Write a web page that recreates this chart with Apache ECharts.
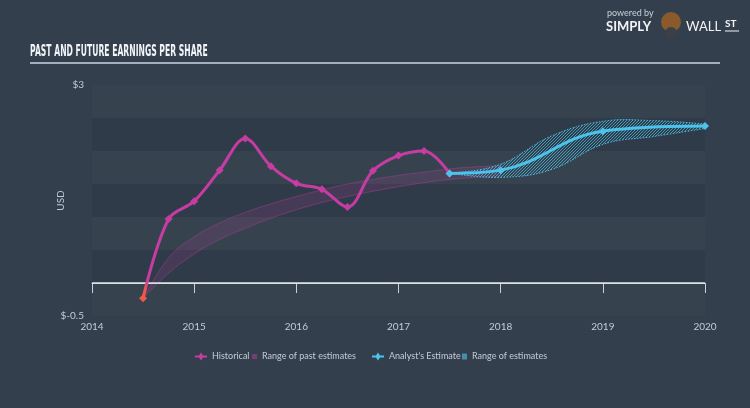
<!DOCTYPE html>
<html><head><meta charset="utf-8">
<script src="https://cdn.jsdelivr.net/npm/echarts@6/dist/echarts.min.js"></script>
<style>html,body{margin:0;padding:0;background:#343f4e;}#c{width:750px;height:408px;}</style>
</head><body><div id="c"></div>
<script>
// ---- data ----
const xTicks = [2014, 2015, 2016, 2017, 2018, 2019, 2020];
const yTickLabels = {"3": "$3", "-0.5": "$-0.5"};
const histX = [2014.5, 2014.75, 2015, 2015.25, 2015.5, 2015.75, 2016, 2016.25, 2016.5, 2016.75, 2017, 2017.25, 2017.5];
const histEPS = [-0.23, 0.97, 1.24, 1.71, 2.19, 1.77, 1.51, 1.42, 1.15, 1.70, 1.93, 2.00, 1.66];
const pastRangeX = [2014.5, 2014.75, 2015, 2015.25, 2015.5, 2015.75, 2016, 2016.25, 2016.5, 2016.75, 2017, 2017.25, 2017.5, 2017.75, 2018];
const pastLow  = [-0.23, 0.15, 0.44, 0.66, 0.83, 0.98, 1.11, 1.22, 1.31, 1.39, 1.46, 1.52, 1.57, 1.60, 1.62];
const pastHigh = [-0.23, 0.38, 0.70, 0.91, 1.07, 1.20, 1.31, 1.41, 1.50, 1.57, 1.63, 1.68, 1.73, 1.76, 1.78];
const estX = [2017.5, 2018, 2019, 2020];
const estEPS = [1.66, 1.71, 2.30, 2.38];
const estRangeX = [2017.5, 2018, 2018.5, 2019, 2019.5, 2020];
const estLow  = [1.66, 1.60, 1.72, 2.10, 2.22, 2.34];
const estHigh = [1.66, 1.80, 2.23, 2.45, 2.46, 2.41];

// ---- styles ----
const MAG = '#c63ca2', CYAN = '#4cc3ea', RED = '#f2584a';
const txt = '#c3cbd4';
const plusDiamond = 'path://M0,3 L4,3 L6,0 L8,3 L12,3 L12,5 L8,5 L6,8 L4,5 L0,5 Z';

function hatch(color, w) {
  const c = document.createElement('canvas'); c.width = w; c.height = w;
  const g = c.getContext('2d'); g.strokeStyle = color; g.lineWidth = 1;
  g.beginPath(); g.moveTo(0, w); g.lineTo(w, 0); g.stroke();
  g.beginPath(); g.moveTo(-1, 1); g.lineTo(1, -1); g.stroke();
  g.beginPath(); g.moveTo(w - 1, w + 1); g.lineTo(w + 1, w - 1); g.stroke();
  return c;
}
const cyanHatch = hatch('rgba(76,195,234,0.7)', 3);

const zip = (xs, ys) => xs.map((x, i) => [x, ys[i]]);

// cardinal-spline path pieces through pixel points
function segs(p, t) {
  let s = '';
  for (let i = 0; i < p.length - 1; i++) {
    const a = p[i - 1] || p[i], b = p[i], c = p[i + 1], d = p[i + 2] || p[i + 1];
    const c1 = [b[0] + (c[0] - a[0]) * t, b[1] + (c[1] - a[1]) * t];
    const c2 = [c[0] - (d[0] - b[0]) * t, c[1] - (d[1] - b[1]) * t];
    s += ' C' + c1[0] + ' ' + c1[1] + ' ' + c2[0] + ' ' + c2[1] + ' ' + c[0] + ' ' + c[1];
  }
  return s;
}
function bandRenderer(xs, lo, hi, fill, stroke, lw, dash) {
  return function (params, api) {
    const L = xs.map((x, i) => api.coord([x, lo[i]]));
    const H = xs.map((x, i) => api.coord([x, hi[i]])).reverse();
    const t = 0.2;
    const area = 'M' + L[0][0] + ' ' + L[0][1] + segs(L, t) + ' L' + H[0][0] + ' ' + H[0][1] + segs(H, t) + ' Z';
    const lowE = 'M' + L[0][0] + ' ' + L[0][1] + segs(L, t);
    const highE = 'M' + H[0][0] + ' ' + H[0][1] + segs(H, t);
    const edge = {fill: null, stroke: stroke, lineWidth: lw, lineDash: dash};
    return {type: 'group', children: [
      {type: 'path', shape: {pathData: area}, style: {fill: fill}},
      {type: 'path', shape: {pathData: lowE}, style: edge},
      {type: 'path', shape: {pathData: highE}, style: edge}
    ]};
  };
}

const chart = echarts.init(document.getElementById('c'), null, {renderer: 'canvas'});
const legendText = {color: txt, fontSize: 9, fontFamily: 'Lato'};
const option = {
  backgroundColor: '#343f4e',
  animation: false,
  grid: {left: 92, right: 45, top: 85, bottom: 92},
  xAxis: {
    type: 'value', min: 2014, max: 2020, interval: 1,
    axisLine: {lineStyle: {color: '#c9d2dc', width: 1}},
    axisTick: {show: true, length: 10, lineStyle: {color: '#c9d2dc'}},
    axisLabel: {color: txt, fontSize: 10, margin: 6, fontFamily: 'Lato', formatter: v => String(v)},
    splitLine: {show: false}
  },
  yAxis: {
    type: 'value', min: -0.5, max: 3, interval: 0.5,
    name: 'USD', nameLocation: 'middle', nameGap: 26, nameRotate: 90, nameMoveOverlap: false,
    nameTextStyle: {color: txt, fontSize: 10, fontFamily: 'Lato'},
    axisLine: {show: false}, axisTick: {show: false},
    axisLabel: {color: txt, fontSize: 10, margin: 8, fontFamily: 'Lato',
      formatter: v => yTickLabels[String(v)] || ''},
    splitLine: {show: false},
    splitArea: {show: true, areaStyle: {color: ['#36434f', '#303b49']}}
  },
  legend: [
    {left: 195, top: 352, padding: 0, itemWidth: 12, itemHeight: 8, textStyle: legendText, data: [{name: 'Historical', icon: plusDiamond}]},
    {left: 252, top: 352, padding: 0, itemWidth: 5, itemHeight: 5, textStyle: legendText, data: [{name: 'Range of past estimates', icon: 'rect', itemStyle: {color: 'rgba(198,60,162,0.45)'}}]},
    {left: 372, top: 352, padding: 0, itemWidth: 12, itemHeight: 8, textStyle: legendText, data: [{name: "Analyst's Estimate", icon: plusDiamond}]},
    {left: 462, top: 352, padding: 0, itemWidth: 5, itemHeight: 6, textStyle: legendText, data: [{name: 'Range of estimates', icon: 'rect', itemStyle: {color: 'rgba(76,195,234,0.6)'}}]}
  ],
  series: [
    {name: 'Range of past estimates', type: 'custom', coordinateSystem: 'cartesian2d',
      data: [[pastRangeX[0], pastLow[0]]], z: 2, silent: true,
      itemStyle: {color: 'rgba(198,60,162,0.45)'},
      renderItem: bandRenderer(pastRangeX, pastLow, pastHigh, 'rgba(198,60,162,0.15)', 'rgba(198,60,162,0.55)', 0.7, null)},
    {name: 'Range of estimates', type: 'custom', coordinateSystem: 'cartesian2d',
      data: [[estRangeX[0], estLow[0]]], z: 3, silent: true,
      itemStyle: {color: 'rgba(76,195,234,0.6)'},
      renderItem: bandRenderer(estRangeX, estLow, estHigh, {image: cyanHatch, repeat: 'repeat'}, 'rgba(76,195,234,0.9)', 1, [1.5, 1.5])},
    {name: 'Historical', type: 'line', smooth: 0.35, symbol: 'diamond', symbolSize: 8,
      data: zip(histX, histEPS).map((p, i) => i === 0 ? {value: p, itemStyle: {color: RED}} : p),
      itemStyle: {color: MAG}, lineStyle: {width: 3, color: MAG}, z: 5,
      markLine: {silent: true, symbol: 'none', label: {show: false},
        lineStyle: {color: '#dfe5ea', width: 1.5, type: 'solid'}, data: [{yAxis: 0}]}},
    {name: "Analyst's Estimate", type: 'line', smooth: 0.4, symbol: 'diamond', symbolSize: 8,
      data: zip(estX, estEPS), itemStyle: {color: CYAN}, lineStyle: {width: 3, color: CYAN}, z: 6}
  ],
  graphic: [
    {type: 'text', left: 30, top: 45, scaleX: 0.51,
      style: {text: 'PAST AND FUTURE EARNINGS PER SHARE', fill: '#f2f5f8', font: 'bold 15px "DejaVu Sans"'}},
    {type: 'line', shape: {x1: 30, y1: 63, x2: 720, y2: 63}, style: {stroke: '#c8d6e2', lineWidth: 1.5}},
    {type: 'text', left: 607, top: 9, style: {text: 'powered by', fill: '#c8d0d8', font: '9px Lato'}},
    {type: 'text', left: 606, top: 20, style: {text: 'SIMPLY', fill: '#f2f4f6', font: 'bold 13px Lato'}},
    {type: 'circle', shape: {cx: 671, cy: 22, r: 10}, style: {fill: '#8a5a2c'}},
    {type: 'circle', shape: {cx: 671, cy: 33, r: 6}, style: {fill: '#3a3f48'}},
    {type: 'text', left: 686, top: 20, style: {text: 'WALL', fill: '#f2f4f6', font: '13px Lato'}},
    {type: 'text', left: 725, top: 19, style: {text: 'ST', fill: '#f2f4f6', font: 'bold 10px Lato'}},
    {type: 'line', shape: {x1: 725, y1: 31, x2: 739, y2: 31}, style: {stroke: '#f2f4f6', lineWidth: 1}}
  ]
};
chart.setOption(option);
// colour the historical line red below zero using the axis scale
const y0 = chart.convertToPixel({yAxisIndex: 0}, 0);
const f = y0 / 408;
chart.setOption({series: [{}, {}, {lineStyle: {color: {type: 'linear', x: 0, y: 0, x2: 0, y2: 408, global: true,
  colorStops: [{offset: 0, color: MAG}, {offset: f - 0.01, color: MAG}, {offset: f + 0.02, color: RED}, {offset: 1, color: RED}]}}}]});
</script></body></html>
